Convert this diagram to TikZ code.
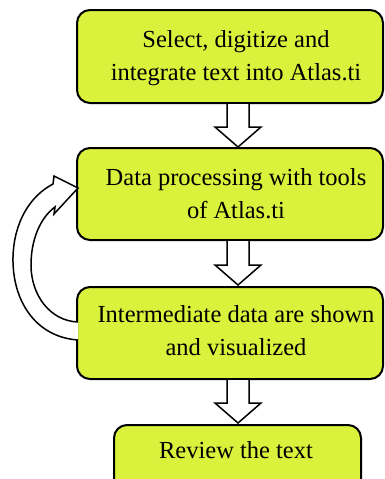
\documentclass[tikz,border=0pt]{standalone}
\usepackage{fontspec}
\setmainfont{Liberation Serif}
\definecolor{boxfill}{RGB}{218,242,59}
\tikzset{
  stepbox/.style={draw=black, line width=2pt, fill=boxfill, rounded corners=13pt},
  blockarrow/.style={draw=black, line width=1.5pt, fill=white, line join=miter},
  lbl/.style={font=\fontsize{24.5}{33}\selectfont, anchor=base, inner sep=0pt}
}
\begin{document}
\begin{tikzpicture}[x=1pt,y=-1pt]
\useasboundingbox (0,0) rectangle (384,479);
% boxes
\draw[stepbox] (77,10) rectangle (383,103);
\draw[stepbox] (77,148) rectangle (383,240);
\draw[stepbox] (77,287) rectangle (383,379);
\draw[stepbox] (114,425) rectangle (361,492);
% labels
\node[lbl] (t1a) at (236,47) {Select, digitize and};
\node[lbl] (t1b) at (236,80) {integrate text into Atlas.ti};
\node[lbl] (t2a) at (236,185) {Data processing with tools};
\node[lbl] (t2b) at (236,218) {of Atlas.ti};
\node[lbl] (t3a) at (236,322) {Intermediate data are shown};
\node[lbl] (t3b) at (236,355) {and visualized};
\node[lbl] (t4) at (236,458) {Review the text};
% down block arrows
\foreach \y/\t in {103/147, 240/285, 379/423}{
  \draw[blockarrow] (227,\y) -- (249,\y) -- (249,\t-20) -- (261,\t-20) -- (238,\t)
     -- (215,\t-20) -- (227,\t-20) -- cycle;
}
% curved feedback arrow
\draw[blockarrow]
  (78,340) .. controls (35,337) and (12,300) .. (13,257)
  .. controls (14,222) and (30,196) .. (53,184)
  -- (54,176) -- (78,188) -- (54,214) -- (55,207)
  .. controls (40,218) and (31,240) .. (31,265)
  .. controls (31,295) and (50,321) .. (78,322);
\end{tikzpicture}
\end{document}
